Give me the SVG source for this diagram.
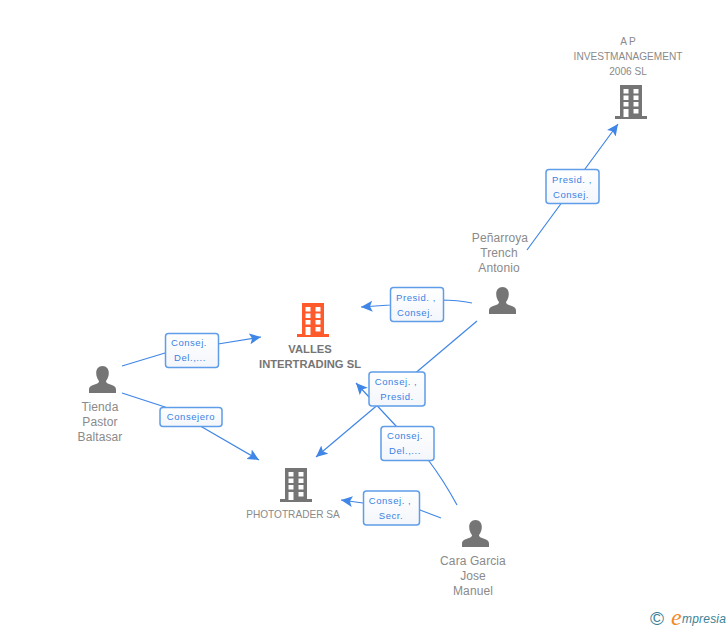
<svg xmlns="http://www.w3.org/2000/svg" width="728" height="630" viewBox="0 0 728 630">
<style>
.c{fill:none;stroke:#3f86e6;stroke-width:1.2}
.b{fill:url(#g);stroke:#5f9de8;stroke-width:1.5}
.l{font:9.500px "Liberation Sans",Arial,sans-serif;fill:#3a82e4;text-anchor:middle;letter-spacing:.55px}
.n{font:12px "Liberation Sans",Arial,sans-serif;fill:#8a8a8a;text-anchor:middle;letter-spacing:.1px}
.s{font-size:10.100px;letter-spacing:0}
.v{font:bold 11.200px "Liberation Sans",Arial,sans-serif;fill:#757575;text-anchor:middle}
</style>
<defs>
<linearGradient id="g" x1="0" y1="0" x2="0" y2="1"><stop offset="0" stop-color="#fff"/><stop offset="1" stop-color="#f3f6fb"/></linearGradient>
<marker id="a" viewBox="0 0 12 12" refX="11.500" refY="6" markerWidth="12" markerHeight="12" markerUnits="userSpaceOnUse" orient="auto"><path d="M0 .5L11.500 6L0 11.500L2.500 6Z" fill="#3f86e6"/></marker>
<symbol id="bld" viewBox="0 0 32 34" width="32" height="34"><path fill-rule="evenodd" d="M5 0H27V31H32V34H0V31H5ZM8.500 4V8.500H13.500V4ZM18.500 4V8.500H23.500V4ZM8.500 10.500V15H13.500V10.500ZM18.500 10.500V15H23.500V10.500ZM8.500 17V21.500H13.500V17ZM18.500 17V21.500H23.500V17ZM18.500 24V28.500H23.500V24ZM8.500 24V32H13.500V24Z"/></symbol>
<symbol id="per" viewBox="0 0 27 27" width="27" height="27"><path d="M13.500 0C17.500 0 19.800 3 19.800 7C19.800 10.500 18.500 13 17 15C17 16.500 18 17.200 20 18C24 19.300 27 20.500 27 23.500V27H0V23.500C0 20.500 3 19.300 7 18C9 17.200 10 16.500 10 15C8.500 13 7.200 10.500 7.200 7C7.200 3 9.500 0 13.500 0Z"/></symbol>
</defs>
<g id="connectors">
<path class="c" d="M527 250L560 205L585 169L618 124" marker-end="url(#a)"/>
<path class="c" d="M472 303Q458 300 440 300L390 305L361 307" marker-end="url(#a)"/>
<path class="c" d="M477 321L316 457" marker-end="url(#a)"/>
<path class="c" d="M457 505Q444 481 429 461L396 426L369 397L356 383" marker-end="url(#a)"/>
<path class="c" d="M441 518L420 510L363 503L341 500" marker-end="url(#a)"/>
<path class="c" d="M122 366L165 353L218 344L261 337" marker-end="url(#a)"/>
<path class="c" d="M122 393L165 407L202 427L259 460" marker-end="url(#a)"/>
</g>
<g id="node-valles"><use href="#bld" x="297" y="303" fill="#ff5a2b"/><text class="v" x="310" y="353">VALLES</text><text class="v" x="310" y="368">INTERTRADING SL</text></g>
<g id="node-ap"><use href="#bld" x="615" y="85" fill="#757575"/><text class="n s" x="628" y="45">A P</text><text class="n s" x="628" y="60">INVESTMANAGEMENT</text><text class="n s" x="628" y="75">2006 SL</text></g>
<g id="node-phototrader"><use href="#bld" x="280" y="468" fill="#757575"/><text class="n s" x="293" y="518">PHOTOTRADER SA</text></g>
<g id="node-penarroya"><use href="#per" x="489" y="287" fill="#757575"/><text class="n" x="500" y="242">Peñarroya</text><text class="n" x="499" y="257">Trench</text><text class="n" x="499" y="272">Antonio</text></g>
<g id="node-tienda"><use href="#per" x="89" y="366" fill="#757575"/><text class="n" x="100" y="411">Tienda</text><text class="n" x="100" y="426">Pastor</text><text class="n" x="100" y="441">Baltasar</text></g>
<g id="node-cara"><use href="#per" x="462" y="520" fill="#757575"/><text class="n" x="473" y="565">Cara Garcia</text><text class="n" x="473" y="580">Jose</text><text class="n" x="473" y="595">Manuel</text></g>
<g id="label-1"><rect class="b" x="546" y="169.500" width="53" height="34" rx="3"/><text class="l" x="572" y="183">Presid. ,</text><text class="l" x="571" y="198">Consej.</text></g>
<g id="label-2"><rect class="b" x="390.500" y="287.500" width="53" height="34" rx="3"/><text class="l" x="416" y="301">Presid. ,</text><text class="l" x="415" y="316">Consej.</text></g>
<g id="label-3"><rect class="b" x="369" y="372" width="56" height="34" rx="3"/><text class="l" x="396" y="385">Consej. ,</text><text class="l" x="397" y="400">Presid.</text></g>
<g id="label-4"><rect class="b" x="381" y="426.500" width="53" height="34" rx="3"/><text class="l" x="405" y="439">Consej.</text><text class="l" x="405" y="454">Del.,...</text></g>
<g id="label-5"><rect class="b" x="363.500" y="491" width="56" height="34" rx="3"/><text class="l" x="390" y="504">Consej. ,</text><text class="l" x="391" y="519">Secr.</text></g>
<g id="label-6"><rect class="b" x="165.500" y="333.500" width="53" height="34" rx="3"/><text class="l" x="189" y="346">Consej.</text><text class="l" x="190" y="361">Del.,...</text></g>
<g id="label-7"><rect class="b" x="160" y="407.500" width="62" height="19" rx="3"/><text class="l" x="191" y="420">Consejero</text></g>
<g id="logo"><text x="650" y="625" style="font:19px 'Liberation Sans',sans-serif;fill:#3a7f96">©</text><text x="671" y="625" style="font:italic 24px 'Liberation Serif',serif;fill:#f0892a">e</text><text x="682" y="623" style="font:italic 12px 'Liberation Sans',sans-serif;fill:#3a8296;letter-spacing:.2px">mpresia</text></g>
</svg>
